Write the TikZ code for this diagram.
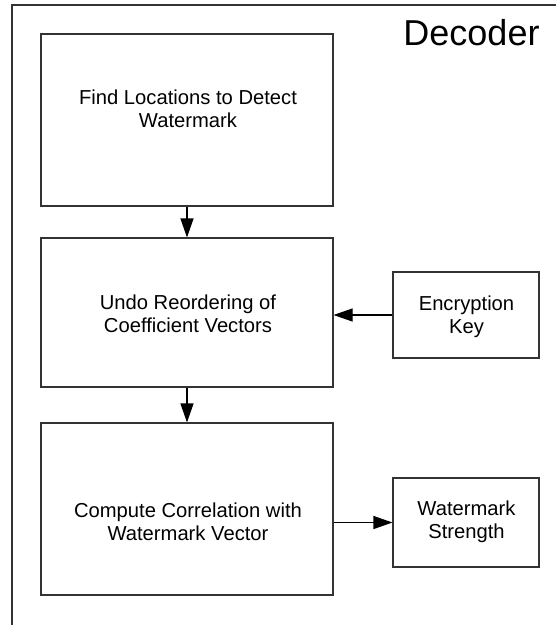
\documentclass[tikz,border=0pt]{standalone}
\usepackage{fontspec}
\setmainfont{Liberation Sans}
\usetikzlibrary{arrows.meta}
\begin{document}
\begin{tikzpicture}[x=1pt,y=-1pt,
  frameline/.style={draw=black!80,line width=1.6pt},
  procbox/.style={draw=black!80,line width=1.1pt,fill=white,inner sep=0pt},
  label/.style={align=center,inner sep=0pt,anchor=north,
    font=\fontsize{20.2}{22.8}\selectfont},
  flow/.style={draw=black,line width=1.1pt,-{Triangle[length=19pt,width=13pt]}}]
\useasboundingbox (0,0) rectangle (556,625);
% open frame: top edge and left edge
\coordinate (fl) at (12,625);
\coordinate (ftl) at (12,5);
\coordinate (fr) at (556,5);
\draw[frameline] (fl) -- (ftl) -- (fr);
\node[anchor=base,inner sep=0pt,font=\fontsize{36}{40}\selectfont] (title) at (471.5,45) {Decoder};
% process boxes
\node[procbox,minimum width=292pt,minimum height=172pt] (b1) at (187,120) {};
\node[procbox,minimum width=292pt,minimum height=149pt] (b2) at (187,312.5) {};
\node[procbox,minimum width=292pt,minimum height=172pt] (b3) at (187,509) {};
\node[procbox,minimum width=146pt,minimum height=86pt] (enc) at (466,315) {};
\node[procbox,minimum width=146pt,minimum height=89pt] (ws) at (466,522.5) {};
% box texts
\node[label] (t1) at (188,90) {Find Locations to Detect\\Watermark};
\node[label] (t2) at (188,295) {Undo Reordering of\\Coefficient Vectors};
\node[label] (t3) at (188,503) {Compute Correlation with\\Watermark Vector};
\node[label] (t4) at (466.5,296) {Encryption\\Key};
\node[label] (t5) at (466.5,501) {Watermark\\Strength};
% connectors
\draw[flow] (b1.south) -- (b2.north);
\draw[flow] (b2.south) -- (b3.north);
\draw[flow] (enc.west) -- (enc.west -| b2.east);
\draw[flow] (ws.west -| b3.east) -- (ws.west);
\end{tikzpicture}
\end{document}
